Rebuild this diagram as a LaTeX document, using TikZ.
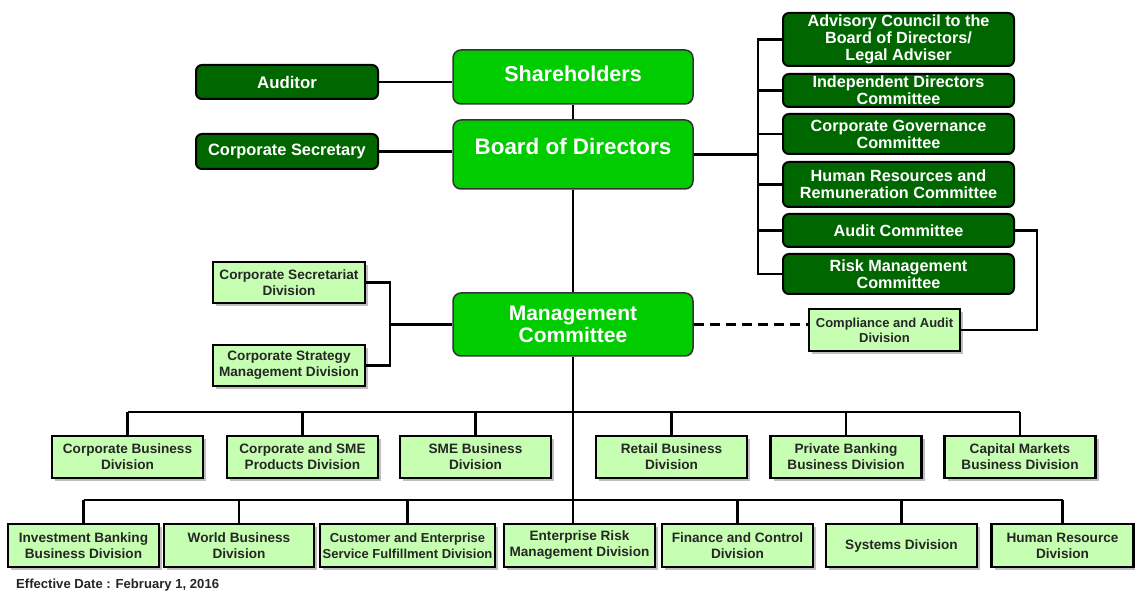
\documentclass[tikz,border=0pt]{standalone}
\usepackage{fontspec}
\setmainfont{Liberation Sans}
\usetikzlibrary{shadows}
\definecolor{bgreen}{RGB}{0,204,0}
\definecolor{dgreen}{RGB}{0,102,0}
\definecolor{lgreen}{RGB}{198,255,178}
\tikzset{
  conn/.style={line width=2.2pt, draw=black},
  bgbox/.style={draw=black!80, line width=1.5pt, fill=bgreen, rounded corners=8pt, text=white,
    font=\fontsize{21.5}{23}\selectfont\bfseries, align=center, inner sep=0pt, minimum width=240pt},
  dgbox/.style={draw=black, line width=2pt, fill=dgreen, rounded corners=6pt, text=white,
    font=\fontsize{16.2}{17}\selectfont\bfseries, align=center, inner sep=0pt},
  lgbox/.style={draw=black, line width=2.4pt, fill=lgreen, text=black!85,
    font=\fontsize{13.6}{16}\selectfont\bfseries, align=center, inner sep=0pt,
    minimum width=151pt, drop shadow={shadow xshift=3pt, shadow yshift=-3pt, opacity=0.5}},
}
\begin{document}
\begin{tikzpicture}[x=1pt,y=-1pt]
\useasboundingbox[fill=white] (0,0) rectangle (1135,593);

% top
\node[bgbox, minimum height=54pt, text height=16pt, text depth=6pt] (sh) at (573,77) {Shareholders};
\node[bgbox, minimum height=69pt, font=\fontsize{22.4}{24}\selectfont\bfseries, text height=16pt, text depth=15.5pt] (bod) at (573,154.5) {Board of Directors};
\node[dgbox, minimum width=182pt, minimum height=34pt, font=\fontsize{16.8}{18}\selectfont\bfseries] (aud) at (287,82) {Auditor};
\node[dgbox, minimum width=182pt, minimum height=35pt, font=\fontsize{16.4}{18}\selectfont\bfseries] (cs) at (287,151.5) {Corporate Secretary};

% committees
\node[dgbox, minimum width=231pt, minimum height=53pt] (adv) at (898.5,39.5) {Advisory Council to the\\Board of Directors/\\Legal Adviser};
\node[dgbox, minimum width=231pt, minimum height=33pt] (ind) at (898.5,90.5) {Independent Directors\\Committee};
\node[dgbox, minimum width=231pt, minimum height=40pt] (cgc) at (898.5,134) {Corporate Governance\\Committee};
\node[dgbox, minimum width=231pt, minimum height=45pt] (hrc) at (898.5,184.5) {Human Resources and\\Remuneration Committee};
\node[dgbox, minimum width=231pt, minimum height=33pt] (auc) at (898.5,230.5) {Audit Committee};
\node[dgbox, minimum width=231pt, minimum height=40pt] (rmc) at (898.5,274) {Risk Management\\Committee};

% management
\node[bgbox, minimum height=63pt, font=\fontsize{21}{22}\selectfont\bfseries] (mc) at (573,324.5) {Management\\Committee};
\node[lgbox, minimum width=152pt, minimum height=41pt] (csd) at (289,282.5) {Corporate Secretariat\\Division};
\node[lgbox, minimum width=152pt, minimum height=41pt] (csm) at (289,365.5) {Corporate Strategy\\Management Division};
\node[lgbox, minimum height=42pt, font=\fontsize{13}{15}\selectfont\bfseries] (cad) at (884.5,330) {Compliance and Audit\\Division};

% row 1
\node[lgbox, minimum height=42pt] (cbd) at (127.5,457) {Corporate Business\\Division};
\node[lgbox, minimum height=42pt] (csp) at (302.5,457) {Corporate and SME\\Products Division};
\node[lgbox, minimum height=42pt] (sme) at (475.5,457) {SME Business\\Division};
\node[lgbox, minimum height=42pt] (rbd) at (671.5,457) {Retail Business\\Division};
\node[lgbox, minimum height=42pt] (pbb) at (846,457) {Private Banking\\Business Division};
\node[lgbox, minimum height=42pt] (cmb) at (1020,457) {Capital Markets\\Business Division};

% row 2
\node[lgbox, minimum height=43pt] (ibb) at (83.5,545.5) {Investment Banking\\Business Division};
\node[lgbox, minimum height=43pt, minimum width=150pt] (wbd) at (239,545.5) {World Business\\Division};
\node[lgbox, minimum height=43pt, minimum width=175pt, font=\fontsize{13}{16}\selectfont\bfseries] (cef) at (407.5,545.5) {Customer and Enterprise\\Service Fulfillment Division};
\node[lgbox, minimum height=43pt] (erm) at (579.5,545.5) {Enterprise Risk\\Management Division};
\node[lgbox, minimum height=43pt] (fcd) at (737.5,545.5) {Finance and Control\\Division};
\node[lgbox, minimum height=43pt] (sys) at (901.5,545.5) {Systems Division};
\node[lgbox, minimum height=43pt, minimum width=142pt] (hrd) at (1062.5,545.5) {Human Resource\\Division};

\node[anchor=west, inner sep=0pt, text=black!85, font=\fontsize{13.1}{15}\selectfont\bfseries] (eff) at (16,585) {Effective Date : February 1, 2016};

% connectors top
\draw[conn] (aud.east) -- (aud.east -| sh.west);
\draw[conn] (cs.east) -- (cs.east -| bod.west);
\draw[conn] (sh.south) -- (bod.north);
\draw[conn] (bod.south) -- (mc.north);

% committee bus
\coordinate (bt) at (758,0);
\draw[conn] (adv.west) -- (adv.west -| bt) -- (rmc.west -| bt) -- (rmc.west);
\draw[conn] (bod.east) -- (bod.east -| bt);
\foreach \c in {ind,cgc,hrc,auc} \draw[conn] (\c.west) -- (\c.west -| bt);
\draw[conn] (auc.east) -- ++(22,0) |- (cad.east);
\draw[conn, dash pattern=on 10pt off 6pt] (mc.east) -- (mc.east -| cad.west);

% left bracket
\coordinate (lb) at (390,324.5);
\draw[conn] (csd.east) -| (lb) |- (csm.east);
\draw[conn] (lb) -- (mc.west);

% trunk and rows
\coordinate (r1) at (0,412);
\coordinate (r2) at (0,500);
\draw[conn] (mc.south) -- (mc.south |- erm.north);
\draw[conn] (cbd.north |- r1) -- (cmb.north |- r1);
\foreach \c in {cbd,csp,sme,rbd,pbb,cmb} \draw[conn] (\c.north) -- (\c.north |- r1);
\draw[conn] (ibb.north |- r2) -- (hrd.north |- r2);
\foreach \c in {ibb,wbd,cef,fcd,sys,hrd} \draw[conn] (\c.north) -- (\c.north |- r2);
\end{tikzpicture}
\end{document}
